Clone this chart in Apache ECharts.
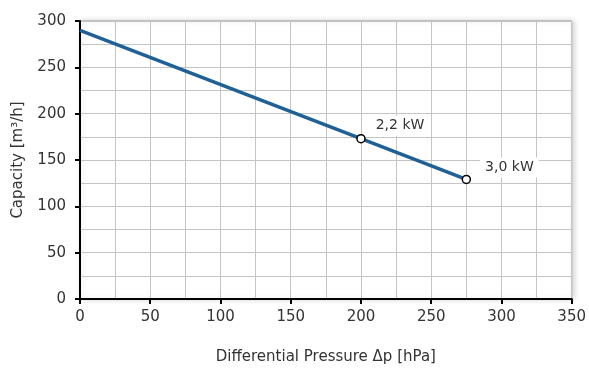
<!DOCTYPE html>
<html>
<head>
<meta charset="utf-8">
<script src="https://cdn.jsdelivr.net/npm/echarts@6/dist/echarts.min.js"></script>
<style>html,body{margin:0;padding:0;background:#fff;}#c{width:589px;height:370px;}</style>
</head>
<body>
<div id="c"></div>
<script>
var pressure = [0, 200, 275];
var capacity = [290, 173, 129];
var pointLabels = ['', '2,2 kW', '3,0 kW'];
var xTicks = [0, 50, 100, 150, 200, 250, 300, 350];
var yTicks = [0, 50, 100, 150, 200, 250, 300];

var chart = echarts.init(document.getElementById('c'));
var font = 'DejaVu Sans';
var data = pressure.map(function (p, i) {
  return {
    value: [p, capacity[i]],
    symbol: pointLabels[i] ? 'circle' : 'none',
    label: {
      show: !!pointLabels[i],
      formatter: pointLabels[i],
      offset: i === 1 ? [0, -13] : [4, -12]
    }
  };
});
chart.setOption({
  animation: false,
  grid: {
    left: 80, right: 16, top: 21, bottom: 68,
    show: true, backgroundColor: '#fff', borderColor: '#999', borderWidth: 1,
    shadowBlur: 6, shadowColor: 'rgba(0,0,0,0.18)', shadowOffsetX: 2, shadowOffsetY: 0
  },
  xAxis: {
    type: 'value', min: xTicks[0], max: xTicks[xTicks.length - 1], interval: 50,
    name: 'Differential Pressure Δp [hPa]', nameLocation: 'middle', nameGap: 51,
    nameTextStyle: { fontFamily: font, fontSize: 15, color: '#333' },
    axisLine: { onZero: false, lineStyle: { color: '#000', width: 2 } },
    axisTick: { show: true, length: 5, lineStyle: { color: '#000', width: 2 } },
    axisLabel: { fontFamily: font, fontSize: 15, color: '#333', margin: 11 },
    splitLine: { show: true, lineStyle: { color: '#c4c4c4', width: 1 } },
    minorTick: { show: false, splitNumber: 2 },
    minorSplitLine: { show: true, lineStyle: { color: '#c4c4c4', width: 1 } }
  },
  yAxis: {
    type: 'value', min: yTicks[0], max: yTicks[yTicks.length - 1], interval: 50,
    name: 'Capacity [m³/h]', nameLocation: 'middle', nameGap: 54,
    nameTextStyle: { fontFamily: font, fontSize: 15, color: '#333' },
    axisLine: { show: true, onZero: false, lineStyle: { color: '#000', width: 2 } },
    axisTick: { show: true, length: 5, lineStyle: { color: '#000', width: 2 } },
    axisLabel: { fontFamily: font, fontSize: 15, color: '#333', margin: 14 },
    splitLine: { show: true, lineStyle: { color: '#c4c4c4', width: 1 } },
    minorTick: { show: false, splitNumber: 2 },
    minorSplitLine: { show: true, lineStyle: { color: '#c4c4c4', width: 1 } }
  },
  series: [{
    type: 'line',
    data: data,
    symbolSize: 8,
    showAllSymbol: true,
    lineStyle: { color: '#1f6196', width: 3.5 },
    itemStyle: { color: '#fff', borderColor: '#000', borderWidth: 1.5 },
    label: {
      position: 'right', fontFamily: font, fontSize: 14, color: '#333',
      backgroundColor: '#fff', padding: [3, 5]
    },
    z: 5
  }]
});
</script>
</body>
</html>
